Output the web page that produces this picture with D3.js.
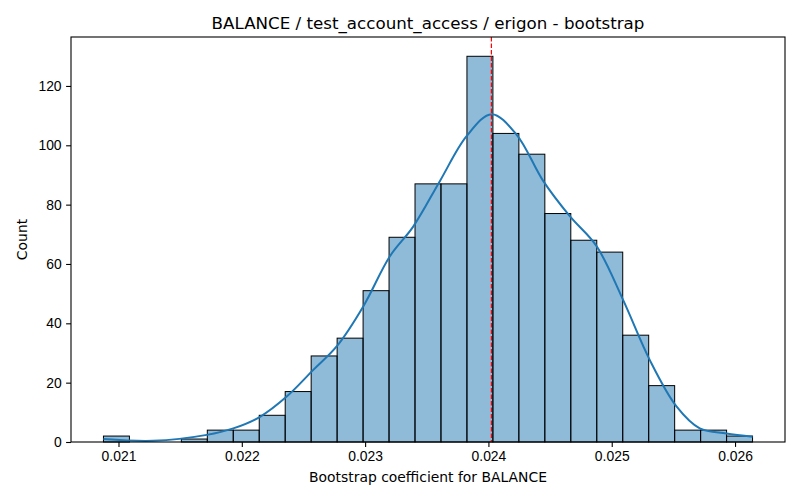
<!DOCTYPE html>
<html>
<head>
<meta charset="utf-8">
<script src="https://cdn.jsdelivr.net/npm/d3@7"></script>
<style>
  body { margin: 0; background: #fff; }
  svg { font-family: "DejaVu Sans", sans-serif; }
  .axis path, .axis line { stroke: #000; stroke-width: 1.1; }
  .axis text { font-size: 13.9px; fill: #000; }
</style>
</head>
<body>
<div id="chart"></div>
<script>
// histogram: 25 equal bins between binLow and binHigh
const binLow = 0.020878;
const binHigh = 0.026142;
const counts = [2, 0, 0, 1, 4, 4, 9, 17, 29, 35, 51, 69, 87, 87, 130, 104, 97, 77, 68, 64, 36, 19, 4, 4, 2];

// kde curve (coefficient, count scale)
const kdeX = [0.020878, 0.021281, 0.021716, 0.021931, 0.022148, 0.022364, 0.02258, 0.022769, 0.022985,
  0.023201, 0.02339, 0.023607, 0.023823, 0.024026, 0.024228, 0.024444, 0.02466, 0.024877,
  0.025092, 0.025309, 0.025525, 0.025714, 0.02593, 0.026142];
const kdeY = [1.0, 0.4, 2.4, 4.6, 8.5, 15.3, 24.3, 32.2, 45.7,
  62.6, 72.6, 88.0, 103.1, 110.5, 103.6, 88.0, 76.1, 66.0,
  47.9, 27.6, 12.0, 4.6, 2.9, 1.8];

const estimate = 0.024024;
const xTicks = [0.021, 0.022, 0.023, 0.024, 0.025, 0.026];
const yTicks = [0, 20, 40, 60, 80, 100, 120];

const width = 800, height = 500;
const margin = { top: 37, right: 15, bottom: 58, left: 71 };
const innerWidth = width - margin.left - margin.right;
const innerHeight = height - margin.top - margin.bottom;

const svg = d3.select("#chart").append("svg")
  .attr("width", width)
  .attr("height", height);

const plot = svg.append("g").attr("transform", `translate(${margin.left},${margin.top})`);

const binWidth = (binHigh - binLow) / counts.length;
const bins = counts.map((c, i) => ({ x0: binLow + i * binWidth, x1: binLow + (i + 1) * binWidth, count: c }));

const pad = (binHigh - binLow) * 0.05;
const x = d3.scaleLinear().domain([binLow - pad, binHigh + pad]).range([0, innerWidth]);
const y = d3.scaleLinear().domain([0, d3.max(counts) * 1.05]).range([innerHeight, 0]);

plot.append("g")
  .selectAll("rect")
  .data(bins.filter((d) => d.count > 0))
  .join("rect")
  .attr("x", (d) => x(d.x0))
  .attr("y", (d) => y(d.count))
  .attr("width", (d) => x(d.x1) - x(d.x0))
  .attr("height", (d) => y(0) - y(d.count))
  .attr("fill", "#1f77b4")
  .attr("fill-opacity", 0.5)
  .attr("stroke", "#000")
  .attr("stroke-width", 1);

const kde = d3.zip(kdeX, kdeY);
plot.append("path")
  .datum(kde)
  .attr("fill", "none")
  .attr("stroke", "#1f77b4")
  .attr("stroke-width", 2)
  .attr("d", d3.line().curve(d3.curveCatmullRom.alpha(0.5)).x((d) => x(d[0])).y((d) => y(d[1])));

plot.append("line")
  .attr("x1", x(estimate))
  .attr("x2", x(estimate))
  .attr("y1", 0)
  .attr("y2", innerHeight)
  .attr("stroke", "#ff0000")
  .attr("stroke-width", 1.2)
  .attr("stroke-dasharray", "4.5,2");

const xAxis = d3.axisBottom(x).tickValues(xTicks).tickFormat(d3.format(".3f")).tickSize(4.9).tickPadding(4.5);
const yAxis = d3.axisLeft(y).tickValues(yTicks).tickSize(4.9).tickPadding(4.5);

plot.append("g").attr("class", "axis").attr("transform", `translate(0,${innerHeight})`).call(xAxis)
  .call((g) => g.select(".domain").remove());
plot.append("g").attr("class", "axis").call(yAxis)
  .call((g) => g.select(".domain").remove());

plot.append("rect")
  .attr("width", innerWidth)
  .attr("height", innerHeight)
  .attr("fill", "none")
  .attr("stroke", "#000")
  .attr("stroke-width", 1.1);

svg.append("text")
  .attr("x", margin.left + innerWidth / 2)
  .attr("y", 29)
  .attr("text-anchor", "middle")
  .attr("font-size", 16.7)
  .text("BALANCE / test_account_access / erigon - bootstrap");

svg.append("text")
  .attr("x", margin.left + innerWidth / 2)
  .attr("y", 482)
  .attr("text-anchor", "middle")
  .attr("font-size", 13.9)
  .text("Bootstrap coefficient for BALANCE");

svg.append("text")
  .attr("transform", `translate(27,${margin.top + innerHeight / 2}) rotate(-90)`)
  .attr("text-anchor", "middle")
  .attr("font-size", 13.9)
  .text("Count");
</script>
</body>
</html>
